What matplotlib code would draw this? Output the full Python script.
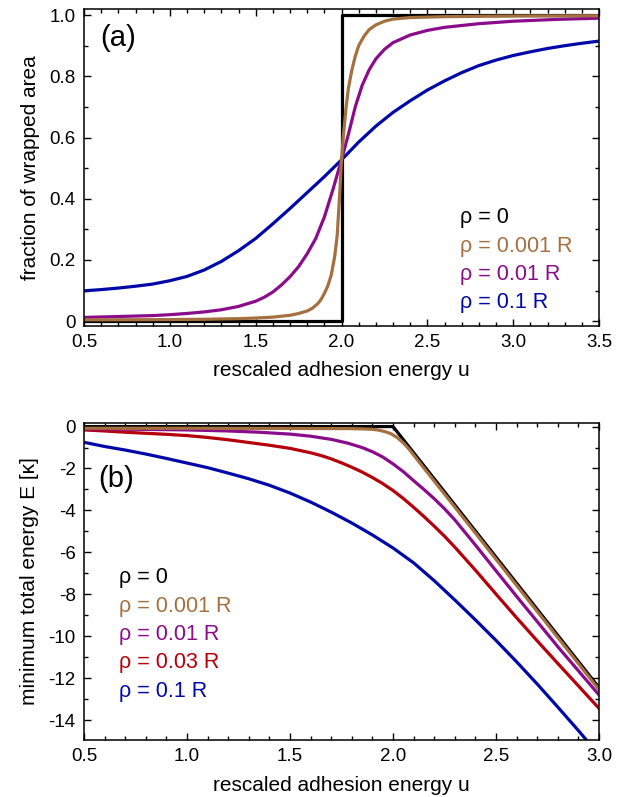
import matplotlib
matplotlib.use("Agg")
import matplotlib.pyplot as plt
from matplotlib.ticker import MultipleLocator, FixedLocator, FixedFormatter

plt.rcParams['font.family'] = ['Liberation Sans', 'DejaVu Sans']
plt.rcParams['axes.unicode_minus'] = False

# ---------------- data: panel (a) fraction of wrapped area ----------------
a_u_black = [0.5, 2.0, 2.0, 3.5]
a_f_black = [0.0, 0.0, 1.0, 1.0]

a_u_brown = [0.5, 0.8, 1.0, 1.2, 1.4, 1.5, 1.6, 1.7, 1.75, 1.8, 1.83, 1.86, 1.88, 1.9, 1.92,
             1.94, 1.96, 1.975, 1.99, 2.0, 2.01, 2.025, 2.04, 2.06, 2.08, 2.1, 2.13, 2.16,
             2.2, 2.25, 2.3, 2.4, 2.6, 3.0, 3.5]
a_f_brown = [0.004, 0.0045, 0.005, 0.006, 0.008, 0.01, 0.013, 0.019, 0.025, 0.033, 0.042,
             0.056, 0.07, 0.09, 0.115, 0.15, 0.21, 0.28, 0.42, 0.527, 0.6, 0.69, 0.76, 0.82,
             0.865, 0.9, 0.93, 0.952, 0.968, 0.98, 0.987, 0.992, 0.995, 0.997, 0.998]

a_u_purple = [0.5, 0.7, 0.9, 1.0, 1.1, 1.2, 1.3, 1.4, 1.5, 1.55, 1.6, 1.65, 1.7, 1.75, 1.8,
              1.85, 1.9, 1.95, 2.0, 2.04, 2.08, 2.12, 2.16, 2.2, 2.25, 2.3, 2.4, 2.5, 2.6,
              2.8, 3.0, 3.25, 3.5]
a_f_purple = [0.012, 0.015, 0.018, 0.021, 0.025, 0.03, 0.037, 0.048, 0.065, 0.078, 0.095,
              0.118, 0.145, 0.178, 0.22, 0.27, 0.34, 0.43, 0.527, 0.61, 0.70, 0.77, 0.82,
              0.857, 0.888, 0.91, 0.935, 0.95, 0.96, 0.972, 0.98, 0.986, 0.99]

a_u_blue = [0.5, 0.6, 0.7, 0.8, 0.9, 1.0, 1.1, 1.2, 1.3, 1.4, 1.5, 1.6, 1.7, 1.8, 1.9, 2.0,
            2.1, 2.2, 2.3, 2.4, 2.5, 2.6, 2.7, 2.8, 2.9, 3.0, 3.1, 3.2, 3.3, 3.4, 3.5]
a_f_blue = [0.099, 0.103, 0.108, 0.114, 0.121, 0.132, 0.146, 0.167, 0.195, 0.23, 0.27, 0.318,
            0.368, 0.42, 0.472, 0.527, 0.585, 0.637, 0.682, 0.72, 0.755, 0.785, 0.812, 0.835,
            0.853, 0.868, 0.88, 0.891, 0.90, 0.908, 0.915]

# ---------------- data: panel (b) minimum total energy ----------------
b_u_black = [0.5, 2.0, 3.0]
b_e_black = [0.0, 0.0, -12.45]

b_u_brown = [0.5, 1.0, 1.5, 1.8, 1.85, 1.9, 1.93, 1.96, 1.99, 2.02, 2.05, 2.08, 2.11, 2.15,
             2.2, 2.25, 2.3, 2.4, 2.5, 2.75, 3.0]
b_e_brown = [-0.08, -0.08, -0.09, -0.1, -0.11, -0.13, -0.17, -0.24, -0.34, -0.52, -0.78,
             -1.1, -1.48, -1.98, -2.6, -3.22, -3.84, -5.08, -6.33, -9.44, -12.55]

b_u_purple = [0.5, 0.75, 1.0, 1.2, 1.35, 1.5, 1.6, 1.7, 1.78, 1.85, 1.9, 1.95, 2.0, 2.05,
              2.1, 2.15, 2.2, 2.25, 2.3, 2.4, 2.5, 2.6, 2.7, 2.8, 2.9, 3.0]
b_e_purple = [-0.11, -0.13, -0.16, -0.21, -0.27, -0.36, -0.46, -0.61, -0.79, -1.0, -1.2,
              -1.45, -1.78, -2.15, -2.58, -3.0, -3.44, -3.92, -4.45, -5.65, -6.88, -8.1,
              -9.3, -10.5, -11.65, -12.8]

b_u_red = [0.5, 0.6, 0.7, 0.8, 0.9, 1.0, 1.1, 1.2, 1.3, 1.4, 1.5, 1.6, 1.65, 1.7, 1.75,
           1.8, 1.85, 1.9, 1.95, 2.0, 2.05, 2.1, 2.15, 2.2, 2.25, 2.3, 2.4, 2.5, 2.6, 2.7,
           2.8, 2.9, 3.0]
b_e_red = [-0.16, -0.21, -0.27, -0.32, -0.37, -0.43, -0.52, -0.63, -0.76, -0.89, -1.04,
           -1.25, -1.38, -1.54, -1.73, -1.94, -2.17, -2.43, -2.72, -3.05, -3.43, -3.85,
           -4.29, -4.75, -5.23, -5.75, -6.85, -7.99, -9.12, -10.22, -11.3, -12.37, -13.44]

b_u_blue = [0.5, 0.6, 0.7, 0.8, 0.9, 1.0, 1.1, 1.2, 1.3, 1.4, 1.5, 1.6, 1.7, 1.8, 1.9, 2.0,
            2.1, 2.2, 2.3, 2.4, 2.5, 2.6, 2.7, 2.8, 2.9, 2.95]
b_e_blue = [-0.75, -0.95, -1.12, -1.31, -1.52, -1.74, -1.96, -2.22, -2.49, -2.8, -3.17,
            -3.6, -4.08, -4.6, -5.17, -5.79, -6.5, -7.35, -8.27, -9.22, -10.2, -11.22,
            -12.28, -13.38, -14.5, -15.08]

a_labels = ["ρ = 0", "ρ = 0.001 R", "ρ = 0.01 R", "ρ = 0.1 R"]
b_labels = ["ρ = 0", "ρ = 0.001 R", "ρ = 0.01 R", "ρ = 0.03 R", "ρ = 0.1 R"]

a_xticks = [0.5, 1.0, 1.5, 2.0, 2.5, 3.0, 3.5]
a_yticks = [0.0, 0.2, 0.4, 0.6, 0.8, 1.0]
a_yticklabels = ["0", "0.2", "0.4", "0.6", "0.8", "1.0"]
b_xticks = [0.5, 1.0, 1.5, 2.0, 2.5, 3.0]
b_yticks = [0, -2, -4, -6, -8, -10, -12, -14]
b_yticklabels = ["0", "-2", "-4", "-6", "-8", "-10", "-12", "-14"]

# ---------------- styling ----------------
BLACK = '#000000'
BROWN = '#A5703F'
PURPLE = '#8A0C8A'
RED = '#B5000B'
BLUE = '#0008A8'
LW = 2.3

fig = plt.figure(figsize=(6.22, 7.97), dpi=100)
L, R = 84 / 622, 599 / 622
axa = fig.add_axes([L, 1 - 326 / 797, R - L, (326 - 9.3) / 797])
axb = fig.add_axes([L, 1 - 740 / 797, R - L, (740 - 423) / 797])


def style(ax):
    for s in ax.spines.values():
        s.set_linewidth(1.1)
    ax.tick_params(which='both', direction='in', top=True, right=True, labelsize=13.5,
                   width=1.0, pad=6)
    ax.tick_params(which='major', length=5)
    ax.tick_params(which='minor', length=3)


# panel (a)
axa.plot(a_u_black, a_f_black, color=BLACK, lw=LW)
axa.plot(a_u_blue, a_f_blue, color=BLUE, lw=LW)
axa.plot(a_u_purple, a_f_purple, color=PURPLE, lw=LW)
axa.plot(a_u_brown, a_f_brown, color=BROWN, lw=LW)
axa.set_xlim(0.5, 3.5)
axa.set_ylim(-0.016, 1.019)
axa.xaxis.set_major_locator(FixedLocator(a_xticks))
axa.xaxis.set_major_formatter(FixedFormatter([f"{v:.1f}" for v in a_xticks]))
axa.xaxis.set_minor_locator(MultipleLocator(0.1))
axa.yaxis.set_major_locator(FixedLocator(a_yticks))
axa.yaxis.set_major_formatter(FixedFormatter(a_yticklabels))
axa.yaxis.set_minor_locator(MultipleLocator(0.1))
style(axa)
axa.set_xlabel("rescaled adhesion energy u", fontsize=15, labelpad=7)
axa.set_ylabel("fraction of wrapped area", fontsize=15, labelpad=7)
axa.text(0.031, 0.955, "(a)", transform=axa.transAxes, fontsize=21, va='top', ha='left')
for lab, col, yy in zip(a_labels, [BLACK, BROWN, PURPLE, BLUE], [0.324, 0.234, 0.145, 0.057]):
    axa.text(0.731, yy, lab, color=col, fontsize=15.5, transform=axa.transAxes,
             ha='left', va='baseline')

# panel (b)
axb.plot(b_u_black, b_e_black, color=BLACK, lw=LW)
axb.plot(b_u_blue, b_e_blue, color=BLUE, lw=LW)
axb.plot(b_u_red, b_e_red, color=RED, lw=LW)
axb.plot(b_u_purple, b_e_purple, color=PURPLE, lw=LW)
axb.plot(b_u_brown, b_e_brown, color=BROWN, lw=LW)
axb.set_xlim(0.5, 3.0)
axb.set_ylim(-14.95, 0.17)
axb.xaxis.set_major_locator(FixedLocator(b_xticks))
axb.xaxis.set_major_formatter(FixedFormatter([f"{v:.1f}" for v in b_xticks]))
axb.xaxis.set_minor_locator(MultipleLocator(0.1))
axb.yaxis.set_major_locator(FixedLocator(b_yticks))
axb.yaxis.set_major_formatter(FixedFormatter(b_yticklabels))
axb.yaxis.set_minor_locator(MultipleLocator(1))
style(axb)
axb.set_xlabel("rescaled adhesion energy u", fontsize=15, labelpad=8)
axb.set_ylabel("minimum total energy E [κ]", fontsize=15, labelpad=7)
axb.text(0.027, 0.868, "(b)", transform=axb.transAxes, fontsize=21, va='top', ha='left')
for lab, col, yy in zip(b_labels, [BLACK, BROWN, PURPLE, RED, BLUE],
                        [0.494, 0.405, 0.315, 0.226, 0.137]):
    axb.text(0.067, yy, lab, color=col, fontsize=15.5, transform=axb.transAxes,
             ha='left', va='baseline')

fig.savefig("out.png", dpi=100)
